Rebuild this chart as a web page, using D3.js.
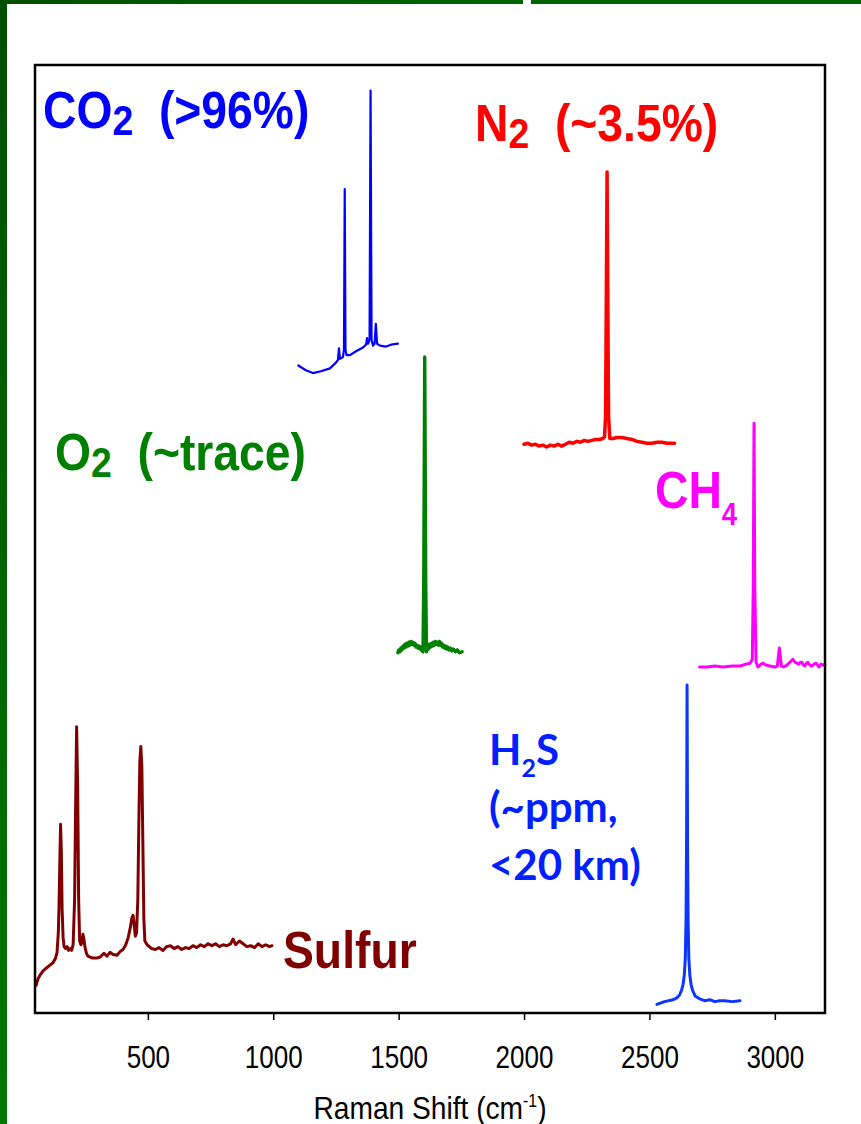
<!DOCTYPE html>
<html>
<head>
<meta charset="utf-8">
<script src="https://cdn.jsdelivr.net/npm/d3@7"></script>
<style>
  body { margin: 0; background: #fff; }
  svg { display: block; }
</style>
</head>
<body>
<svg id="chart" width="861" height="1124"></svg>
<script>
// DATA: Raman shift (cm-1) vs stacked intensity (offset, a.u. 0-100)
const co2 = [
  [1100, 68.3], [1130, 67.8], [1158, 67.5], [1190, 67.7], [1226, 68.0],
  [1250, 68.6], [1258, 68.9], [1262, 70.1], [1266, 69.0], [1278, 69.2],
  [1282, 70.0], [1285, 86.9], [1288, 70.0], [1292, 69.4], [1306, 69.4],
  [1330, 69.8], [1358, 70.2], [1370, 70.5], [1374, 71.2], [1378, 70.6],
  [1384, 71.0], [1388, 97.3], [1392, 71.0], [1398, 70.4], [1404, 70.6],
  [1409, 72.7], [1414, 70.6], [1426, 70.4], [1450, 70.3], [1470, 70.5],
  [1497, 70.6]
];

const n2 = [
  [2000, 60.0], [2015, 60.1], [2030, 59.9], [2045, 60.0], [2060, 59.8],
  [2075, 59.9], [2090, 59.7], [2105, 59.9], [2120, 59.8], [2135, 60.0],
  [2150, 59.8], [2165, 60.0], [2180, 60.2], [2195, 60.1], [2210, 60.3],
  [2225, 60.2], [2240, 60.4], [2255, 60.3], [2270, 60.4], [2285, 60.5],
  [2300, 60.5], [2315, 60.6], [2321, 60.8], [2325, 63.0], [2328, 75.0],
  [2331, 88.7], [2334, 75.0], [2337, 63.0], [2342, 60.6], [2355, 60.6],
  [2370, 60.7], [2390, 60.7], [2410, 60.6], [2430, 60.5], [2450, 60.3],
  [2470, 60.2], [2490, 60.1], [2510, 60.1], [2530, 60.2], [2550, 60.2],
  [2570, 60.1], [2600, 60.1]
];

const o2 = [
  [1497, 38.0], [1501, 38.3], [1505, 38.1], [1509, 38.5], [1513, 38.3],
  [1517, 38.7], [1521, 38.5], [1525, 38.9], [1529, 38.6], [1533, 39.0],
  [1537, 38.7], [1541, 39.1], [1545, 38.8], [1549, 39.2], [1553, 38.9],
  [1557, 39.1], [1561, 38.8], [1565, 39.0], [1569, 38.6], [1573, 38.8],
  [1577, 38.5], [1581, 38.7], [1585, 38.4], [1589, 38.6], [1593, 38.2],
  [1597, 38.1], [1600, 45.0], [1604, 69.2], [1608, 45.0], [1611, 38.1],
  [1615, 38.6], [1619, 38.4], [1623, 38.9], [1627, 38.6], [1631, 39.0],
  [1635, 38.7], [1639, 39.1], [1643, 38.8], [1647, 39.2], [1651, 38.9],
  [1655, 39.1], [1659, 38.8], [1663, 39.2], [1667, 38.8], [1671, 39.0],
  [1675, 38.6], [1679, 38.8], [1683, 38.5], [1687, 38.7], [1691, 38.4],
  [1695, 38.6], [1700, 38.3], [1706, 38.5], [1712, 38.2], [1718, 38.4],
  [1726, 38.1], [1734, 38.3], [1742, 38.0], [1753, 38.1]
];

const ch4 = [
  [2700, 36.5], [2730, 36.5], [2760, 36.6], [2793, 36.5], [2830, 36.6],
  [2861, 36.6], [2885, 36.8], [2901, 36.9], [2910, 37.3], [2914, 45.0],
  [2917, 62.2], [2920, 45.0], [2925, 37.0], [2933, 36.5], [2945, 36.8],
  [2953, 36.9], [2965, 36.7], [2981, 36.6], [3000, 36.5], [3010, 36.6],
  [3015, 37.8], [3018, 38.5], [3021, 37.8], [3026, 36.6], [3035, 36.5],
  [3048, 36.7], [3060, 37.0], [3072, 37.3], [3080, 37.0], [3088, 36.9],
  [3096, 36.8], [3102, 37.0], [3108, 37.0], [3114, 36.7], [3120, 36.6],
  [3126, 36.9], [3132, 37.0], [3140, 36.7], [3148, 36.6], [3156, 36.8],
  [3164, 36.9], [3170, 36.7], [3176, 36.5], [3184, 36.8], [3192, 36.7],
  [3200, 36.8]
];

const h2s = [
  [2530, 0.9], [2560, 1.2], [2594, 1.4], [2610, 1.6], [2620, 1.9],
  [2628, 2.4], [2634, 3.0], [2639, 4.0], [2643, 5.8], [2646, 10.0],
  [2648, 18.0], [2650, 34.6], [2652, 18.0], [2654, 10.0], [2657, 5.8],
  [2661, 4.0], [2666, 3.0], [2672, 2.4], [2682, 1.8], [2700, 1.5],
  [2720, 1.3], [2741, 1.4], [2760, 1.2], [2781, 1.3], [2800, 1.3],
  [2830, 1.2], [2861, 1.3]
];

const sulfur = [
  [54, 2.9], [62, 3.6], [70, 4.0], [84, 4.5], [98, 4.8], [112, 5.1],
  [122, 5.3], [132, 5.8], [138, 6.4], [143, 8.5], [146, 11.5], [149, 16.0],
  [152, 19.9], [155, 17.0], [158, 11.0], [162, 8.0], [166, 7.0], [172, 6.8],
  [178, 7.0], [184, 6.6], [190, 6.8], [196, 6.6], [202, 7.2], [208, 12.0],
  [212, 22.0], [216, 30.2], [220, 24.0], [224, 12.0], [228, 7.6], [233, 7.2],
  [237, 7.4], [241, 8.3], [245, 7.8], [249, 7.0], [255, 6.3], [261, 6.0],
  [270, 5.9], [280, 5.8], [297, 5.8], [310, 5.9], [325, 6.3], [337, 6.0],
  [349, 6.4], [360, 6.2], [377, 6.1], [390, 6.5], [401, 6.7], [412, 7.2],
  [421, 7.9], [430, 9.0], [436, 10.0], [441, 10.3], [446, 9.2], [450, 8.1],
  [455, 8.5], [460, 12.0], [464, 20.0], [468, 26.5], [472, 28.1], [476, 26.0],
  [480, 18.0], [484, 10.0], [488, 7.6], [497, 7.2], [515, 6.8], [530, 6.7],
  [545, 6.9], [560, 6.6], [575, 7.0], [590, 7.1], [605, 6.8], [620, 7.0],
  [635, 6.7], [650, 6.9], [665, 6.8], [680, 7.1], [695, 6.9], [710, 7.2],
  [725, 7.0], [740, 7.3], [755, 7.1], [770, 7.3], [785, 7.0], [800, 7.2],
  [815, 7.1], [830, 7.3], [840, 7.8], [850, 7.2], [865, 7.6], [880, 7.3],
  [895, 7.0], [910, 7.1], [925, 6.9], [940, 7.3], [955, 7.0], [970, 7.2],
  [985, 7.0], [995, 7.1]
];

const xTicks = [500, 1000, 1500, 2000, 2500, 3000];

// CANVAS SETUP
const svg = d3.select("#chart");
const frame = { left: 35, right: 825, top: 65, bottom: 1013 };

const xScale = d3.scaleLinear().domain([50, 3200]).range([frame.left, frame.right]);
const yScale = d3.scaleLinear().domain([0, 100]).range([frame.bottom, frame.top]);

// slide decoration (green bars)
const defs = svg.append("defs");
const gradV = defs.append("linearGradient").attr("id", "gv")
  .attr("x1", 0).attr("y1", 0).attr("x2", 0).attr("y2", 1);
gradV.append("stop").attr("offset", 0).attr("stop-color", "#004f00");
gradV.append("stop").attr("offset", 1).attr("stop-color", "#007800");
const gradH = defs.append("linearGradient").attr("id", "gh");
gradH.append("stop").attr("offset", 0).attr("stop-color", "#004f00");
gradH.append("stop").attr("offset", 1).attr("stop-color", "#006600");

svg.append("rect").attr("x", 0).attr("y", 0).attr("width", 7).attr("height", 1124).attr("fill", "url(#gv)");
svg.append("rect").attr("x", 0).attr("y", 0).attr("width", 523).attr("height", 4).attr("fill", "url(#gh)");
svg.append("rect").attr("x", 531).attr("y", 0).attr("width", 330).attr("height", 4).attr("fill", "#006400");

// SPECTRA
const line = d3.line().x((d) => xScale(d[0])).y((d) => yScale(d[1]));

const spectra = [
  { data: co2, color: "#0000ff", w: 2.2 },
  { data: n2, color: "#ff0000", w: 3.5 },
  { data: o2, color: "#008000", w: 3.4 },
  { data: ch4, color: "#ff00ff", w: 3 },
  { data: h2s, color: "#0b36ff", w: 3 },
  { data: sulfur, color: "#800000", w: 3 },
];

svg.append("g").selectAll("path")
  .data(spectra)
  .join("path")
  .attr("d", (d) => line(d.data))
  .attr("fill", "none")
  .attr("stroke", (d) => d.color)
  .attr("stroke-width", (d) => d.w)
  .attr("stroke-linejoin", "round")
  .attr("stroke-linecap", "round");

// FRAME + AXIS
svg.append("rect")
  .attr("x", frame.left).attr("y", frame.top)
  .attr("width", frame.right - frame.left)
  .attr("height", frame.bottom - frame.top)
  .attr("fill", "none").attr("stroke", "#000").attr("stroke-width", 2.5);

const axisFont = "'Liberation Sans', Arial, sans-serif";

svg.append("g")
  .attr("transform", `translate(0,${frame.bottom})`)
  .call(d3.axisBottom(xScale).tickValues(xTicks).tickSize(7).tickSizeOuter(0).tickFormat(d3.format("d")))
  .call((g) => {
    g.select(".domain").remove();
    g.selectAll("line").attr("stroke", "#000").attr("stroke-width", 1.5);
    g.selectAll("text")
      .attr("y", 0).attr("dy", 0)
      .attr("transform", "translate(0,55) scale(0.84,1)")
      .attr("fill", "#000")
      .style("font-family", axisFont)
      .style("font-size", "31px");
  });

const title = svg.append("text")
  .attr("transform", "translate(430,1119) scale(0.88,1)")
  .attr("text-anchor", "middle")
  .style("font-family", axisFont)
  .style("font-size", "32px")
  .attr("fill", "#000");
title.append("tspan").text("Raman Shift (cm");
title.append("tspan").attr("dy", -12).style("font-size", "18px").text("-1");
title.append("tspan").attr("dy", 12).text(")");

// LABELS
const boldFont = "'Liberation Sans', Arial, sans-serif";

function gasLabel(x, y, color, parts) {
  const t = svg.append("text")
    .attr("transform", `translate(${x},${y}) scale(0.89,1)`)
    .style("font-family", boldFont)
    .style("font-weight", "bold")
    .style("font-size", "52px")
    .attr("fill", color);
  let shift = 0;
  parts.forEach((p) => {
    const s = t.append("tspan").text(p.text);
    const dy = (p.dy || 0) - shift;
    if (dy) s.attr("dy", dy);
    if (p.size) s.style("font-size", p.size + "px");
    shift = p.dy || 0;
  });
}

gasLabel(43, 128, "#0000ff", [
  { text: "CO" }, { text: "2", dy: 7, size: 42 }, { text: "\u00a0\u00a0(>96%)" }
]);
gasLabel(475, 141, "#ff0000", [
  { text: "N" }, { text: "2", dy: 7, size: 42 }, { text: "\u00a0\u00a0(~3.5%)" }
]);
gasLabel(55, 470, "#008000", [
  { text: "O" }, { text: "2", dy: 7, size: 42 }, { text: "\u00a0\u00a0(~trace)" }
]);
gasLabel(655, 508, "#ff00ff", [
  { text: "CH" }, { text: "4", dy: 17, size: 31 }
]);
gasLabel(283, 968, "#800000", [{ text: "Sulfur" }]);

const h2sLabel = svg.append("text")
  .style("font-family", "Lato, 'Open Sans', sans-serif")
  .style("font-weight", "bold")
  .style("font-size", "42px")
  .attr("fill", "#0020ff");
const l1 = h2sLabel.append("tspan").attr("x", 489).attr("y", 765);
l1.append("tspan").text("H");
l1.append("tspan").attr("dy", 12).style("font-size", "25px").text("2");
l1.append("tspan").attr("dy", -12).text("S");
h2sLabel.append("tspan").attr("x", 489).attr("y", 822).text("(~ppm,");
h2sLabel.append("tspan").attr("x", 489).attr("y", 880).text("<20 km)");
</script>
</body>
</html>
